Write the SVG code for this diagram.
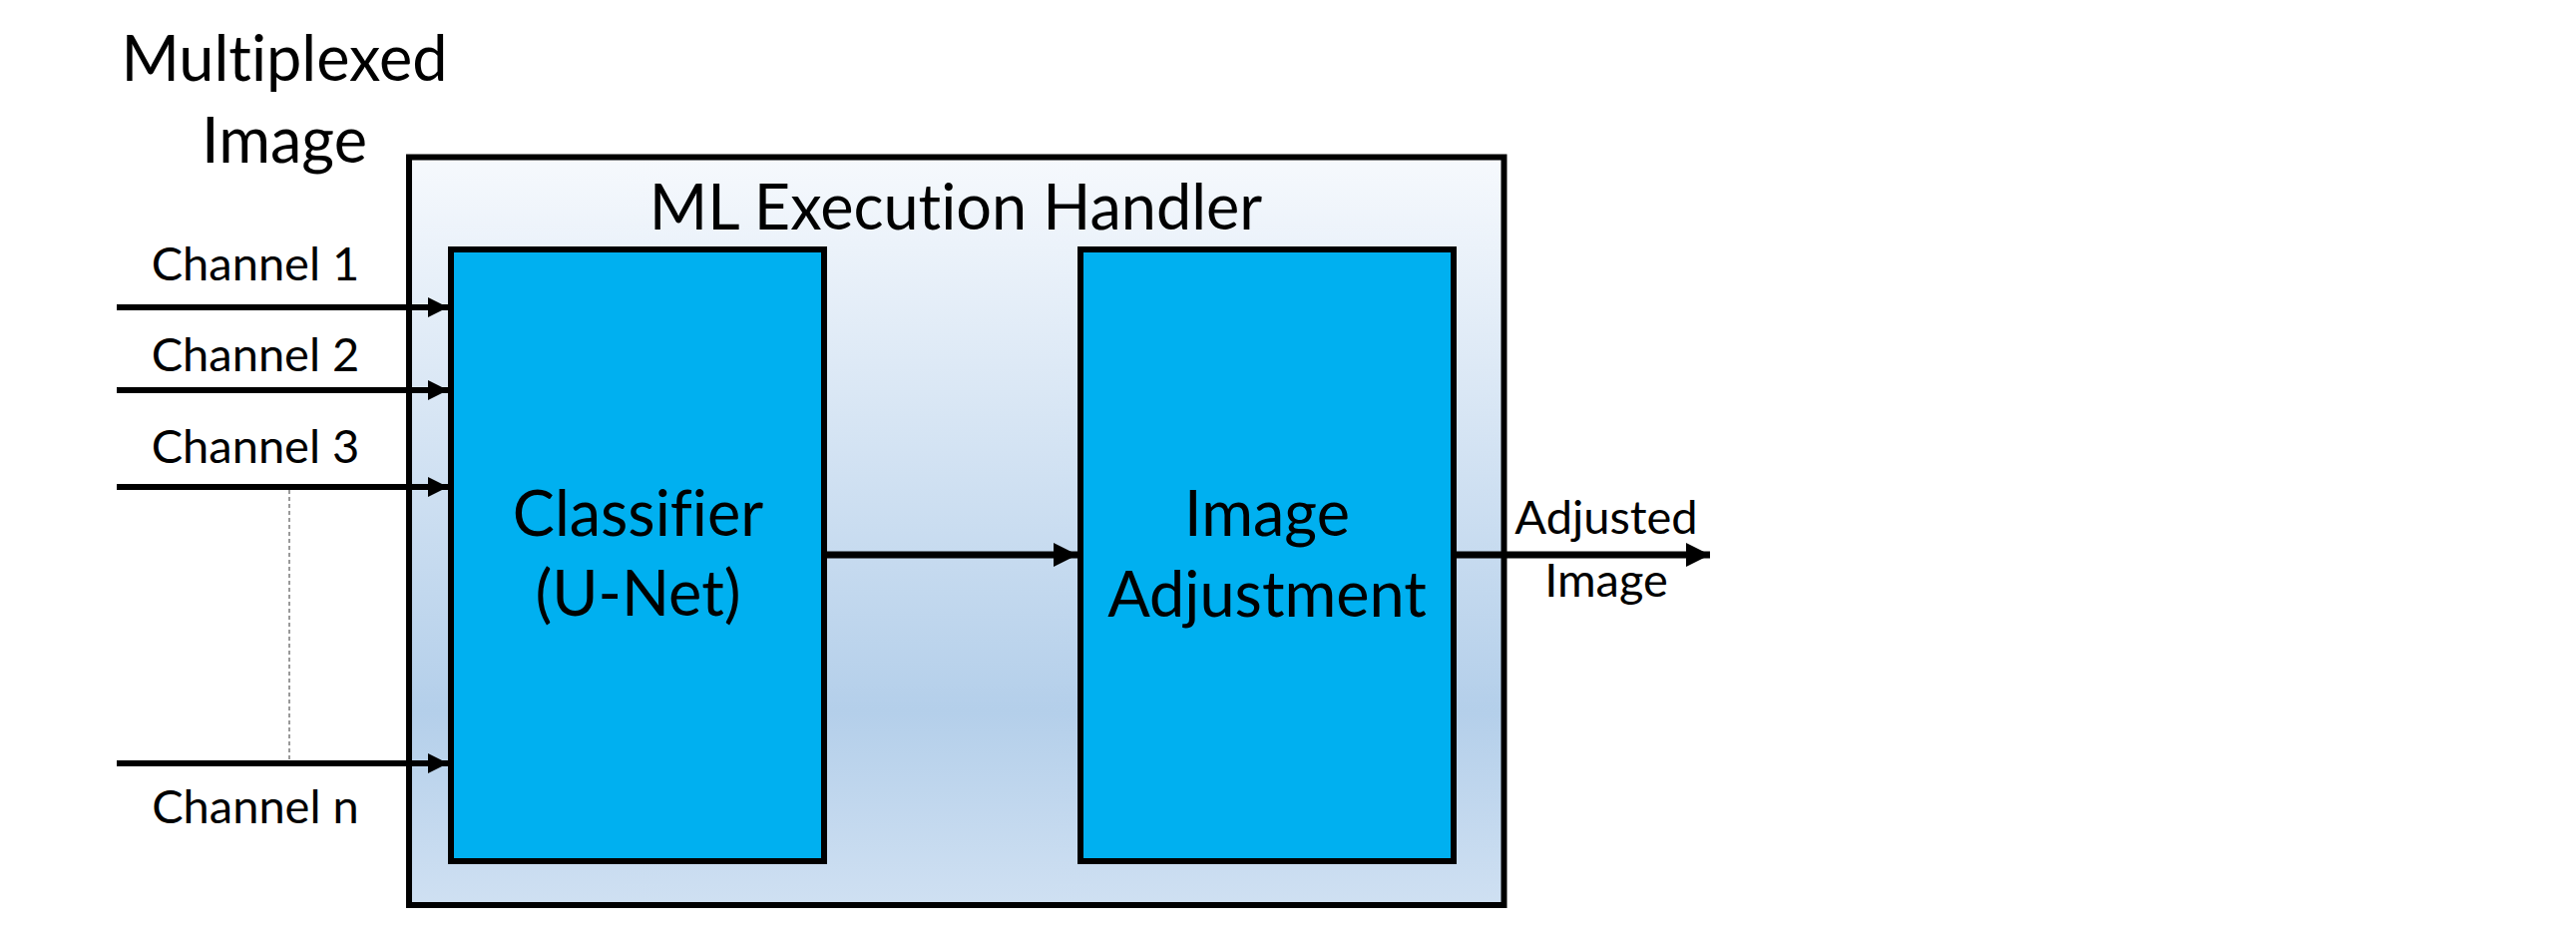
<svg xmlns="http://www.w3.org/2000/svg" width="2582" height="936" viewBox="0 0 2582 936">
  <style>
    .lbl { font-family: Lato, "Open Sans", "Liberation Sans", sans-serif; fill: #000; text-anchor: middle; font-variant-ligatures: none; font-feature-settings: "liga" 0; }
    .big { font-size: 63px; }
    .small { font-size: 47px; }
    .box { fill: #00B0F0; stroke: #000; stroke-width: 6; }
    .wire { stroke: #000; stroke-width: 6; fill: none; }
    .wire-thick { stroke: #000; stroke-width: 7; fill: none; }
  </style>
  <defs>
    <linearGradient id="handlerFill" x1="0" y1="0" x2="0" y2="1">
      <stop offset="0" stop-color="#f6f9fd"/>
      <stop offset="0.74" stop-color="#b4cfea"/>
      <stop offset="1" stop-color="#cfe0f2"/>
    </linearGradient>
    <marker id="headSmall" viewBox="0 0 20 20" refX="20" refY="10" markerWidth="20" markerHeight="20" markerUnits="userSpaceOnUse" orient="auto">
      <path d="M0,0 L20,10 L0,20 Z" fill="#000"/>
    </marker>
    <marker id="headLarge" viewBox="0 0 24 24" refX="24" refY="12" markerWidth="24" markerHeight="24" markerUnits="userSpaceOnUse" orient="auto">
      <path d="M0,0 L24,12 L0,24 Z" fill="#000"/>
    </marker>
  </defs>

  <rect width="2582" height="936" fill="#fff"/>

  <g id="input-label">
    <text class="lbl big" x="285" y="81">Multiplexed</text>
    <text class="lbl big" x="285" y="163">Image</text>
  </g>

  <g id="ml-execution-handler">
    <rect x="410" y="157.5" width="1097.5" height="749.5" fill="url(#handlerFill)" stroke="#000" stroke-width="6"/>
    <text class="lbl big" x="958" y="230">ML Execution Handler</text>
  </g>

  <g id="classifier">
    <rect class="box" x="452" y="250" width="374" height="613"/>
    <text class="lbl big" x="639.5" y="537">Classifier</text>
    <text class="lbl big" x="639.5" y="617">(U-Net)</text>
  </g>

  <g id="image-adjustment">
    <rect class="box" x="1083" y="250" width="374" height="613"/>
    <text class="lbl big" x="1270" y="537">Image</text>
    <text class="lbl big" x="1270" y="618">Adjustment</text>
  </g>

  <g id="channel-labels">
    <text class="lbl small" x="256" y="281">Channel 1</text>
    <text class="lbl small" x="256" y="372">Channel 2</text>
    <text class="lbl small" x="256" y="464">Channel 3</text>
    <text class="lbl small" x="256" y="825">Channel n</text>
  </g>

  <g id="output-label">
    <text class="lbl small" x="1610" y="535">Adjusted</text>
    <text class="lbl small" x="1610" y="598">Image</text>
  </g>

  <g id="connectors">
    <line x1="290" y1="491" x2="290" y2="762" stroke="#7a7a7a" stroke-width="1.5" stroke-dasharray="4 3"/>
    <line class="wire" x1="117" y1="308" x2="449" y2="308" marker-end="url(#headSmall)"/>
    <line class="wire" x1="117" y1="391" x2="449" y2="391" marker-end="url(#headSmall)"/>
    <line class="wire" x1="117" y1="488" x2="449" y2="488" marker-end="url(#headSmall)"/>
    <line class="wire" x1="117" y1="765" x2="449" y2="765" marker-end="url(#headSmall)"/>
    <line class="wire-thick" x1="826" y1="556" x2="1080" y2="556" marker-end="url(#headLarge)"/>
    <line class="wire-thick" x1="1457" y1="556" x2="1714" y2="556" marker-end="url(#headLarge)"/>
  </g>
</svg>
